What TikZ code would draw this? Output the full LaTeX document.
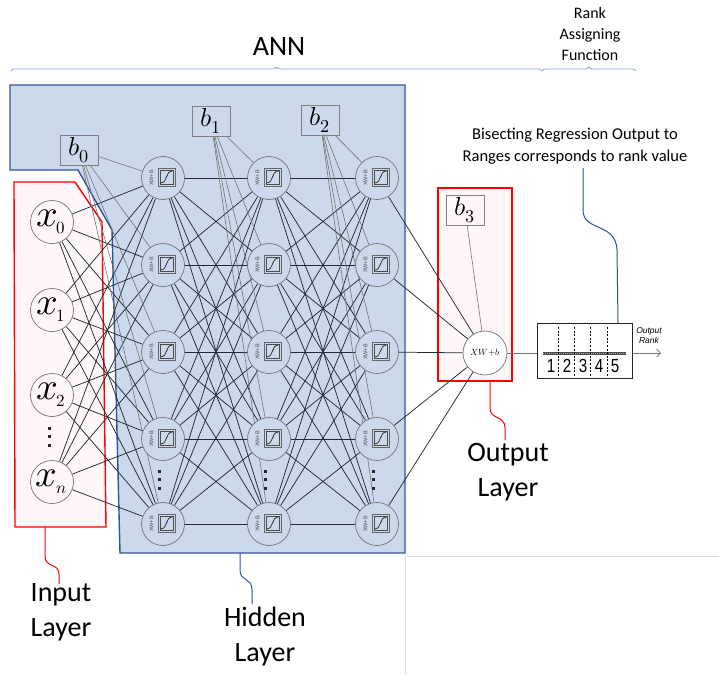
\documentclass[tikz,border=0pt]{standalone}
\usepackage{fontspec}
\usepackage{unicode-math}
\usepackage{graphicx}
\setmainfont{Carlito}
\setmathfont{Latin Modern Math}
\newfontfamily\helv{Liberation Sans}
\usetikzlibrary{arrows.meta,decorations.pathreplacing}
\definecolor{annfill}{RGB}{204,217,236}
\definecolor{annline}{RGB}{47,85,151}
\definecolor{redline}{RGB}{255,0,0}
\definecolor{pinkfill}{RGB}{255,247,247}
\definecolor{conncol}{RGB}{35,42,55}
\definecolor{bracecol}{RGB}{143,170,220}
\pgfdeclarelayer{bg}
\pgfdeclarelayer{edges}
\pgfsetlayers{bg,edges,main}
\tikzset{
  hid/.style={circle, draw=black!55, fill=annfill, minimum size=43pt, inner sep=0pt, line width=0.7pt},
  inp/.style={circle, draw=black!55, fill=pinkfill, minimum size=43pt, inner sep=0pt, line width=0.7pt, font=\fontsize{38}{38}\selectfont},
  biasbox/.style={rectangle, draw=black!50, minimum width=38pt, minimum height=30pt, inner sep=0pt, line width=0.7pt, font=\fontsize{26}{26}\selectfont},
  conn/.style={draw=conncol, line width=0.75pt},
  biasln/.style={draw=black!55, line width=0.6pt},
  sqst/.style={draw=black!60, line width=0.9pt},
  sigst/.style={draw=black!85, line width=0.7pt},
  lbl/.style={font=\fontsize{28}{35}\selectfont, align=center},
  callout/.style={line width=1pt},
  dotst/.style={fill=black!85},
}
\newcommand\xlab[1]{\hspace*{-2pt}$x$\kern-1.5pt\raisebox{-7pt}{\fontsize{17}{17}\selectfont$#1$}}
\newcommand\hnode[3]{%
  \node[hid] (#1) at (#2,#3) {};
  \draw[sqst] (#2-5,#3-10) rectangle (#2+12,#3+8);
  \draw[draw=black!70, line width=0.35pt] (#2-3.3,#3-8.3) rectangle (#2+10.3,#3+6.3);
  \draw[sigst] (#2-2.5,#3+5) .. controls (#2+5,#3+5) and (#2+2,#3-7) .. (#2+9.5,#3-7);
  \node[rotate=90, font=\helv\fontsize{5.5}{5.5}\selectfont, text=black!70, inner sep=0pt] at (#2-11.5,#3) {XW+B};
}
\newcommand\vdotsat[2]{%
  \foreach \k in {0,1,2}{ \fill[dotst] (#1-1.5,#2-1.5+\k*8.5) rectangle (#1+1.5,#2+1.5+\k*8.5); }
}
\begin{document}
\begin{tikzpicture}[x=1pt,y=-1pt]
\useasboundingbox (0,0) rectangle (719,674);

% background shapes
\begin{pgfonlayer}{bg}
  \fill[white] (0,0) rectangle (719,674);
  \draw[black!13, line width=0.6pt] (405,556) -- (719,556) (405,556) -- (405,674);
  \filldraw[fill=annfill, draw=annline, line width=1.4pt]
    (10,85) -- (405,85) -- (405,553) -- (120,553) -- (112,230) -- (78,170) -- (10,170) -- cycle;
  \filldraw[fill=pinkfill, draw=redline, line width=1.4pt]
    (14,182) -- (75,182) -- (102,222) -- (106,527) -- (15,527) -- cycle;
  \filldraw[fill=pinkfill, draw=redline, line width=1.4pt]
    (438,188) rectangle (512,381);
\end{pgfonlayer}

% titles and braces
\node[font=\fontsize{28}{30}\selectfont] (ann) at (279,47) {ANN};
\node[font=\fontsize{16}{21}\selectfont, align=center] (raf) at (590,34) {Rank\\Assigning\\Function};
\draw[bracecol, line width=0.8pt, decorate, decoration={brace, amplitude=4pt}] (11,71) -- (542,71);
\draw[bracecol, line width=0.8pt, decorate, decoration={brace, amplitude=4pt}] (542,71) -- (636,71);

% input nodes
\node[inp] (x0) at (52,222) {\xlab{0}};
\node[inp] (x1) at (52,310) {\xlab{1}};
\node[inp] (x2) at (52,395) {\xlab{2}};
\node[inp] (xn) at (52,482) {\xlab{n}};
\vdotsat{49}{428}

% bias boxes
\node[biasbox] (b0) at (79,150) {$b_{0}$};
\node[biasbox] (b1) at (211,121) {$b_{1}$};
\node[biasbox] (b2) at (320,120) {$b_{2}$};
\node[biasbox, fill=pinkfill] (b3) at (465,210) {$b_{3}$};

% hidden nodes
\foreach \c/\xx in {1/163,2/269,3/377}{
  \foreach \r/\yy in {1/178,2/265,3/352,4/439,5/524}{
    \hnode{h\c-\r}{\xx}{\yy}
  }
  \vdotsat{\xx-4}{471}
}

% output node
\node[circle, draw=black!55, fill=white, minimum size=44pt, inner sep=0pt, line width=0.7pt, font=\fontsize{9}{9}\selectfont] (out) at (485,353) {$XW{+}b$};

% rank assigning box
\node[rectangle, draw=black!85, fill=white, line width=1pt, minimum width=95pt, minimum height=55pt, inner sep=0pt] (rank) at (584.5,350.5) {};
\draw[black!70, line width=3pt] (543,353) -- (626,353);
\draw[black!35, line width=0.6pt, dash pattern=on 1pt off 1pt] (543,353) -- (626,353);
\foreach \xx in {558.5,574,590,607}{
  \draw[black, line width=1pt, dash pattern=on 2pt off 1.6pt] (\xx,327) -- (\xx,377);
}
\foreach \d/\xx in {1/551,2/567,3/583,4/599,5/615}{
  \node[font=\helv\fontsize{19}{19}\selectfont, inner sep=0pt] at (\xx,366) {\scalebox{0.8}[1]{\d}};
}
\coordinate (orank) at (661,353);
\draw[black!55, line width=0.7pt, -{Straight Barb[length=4pt,width=8pt]}] (rank.east |- out) -- (orank);
\node[font=\helv\itshape\fontsize{8.5}{10}\selectfont, align=center] (ortext) at (649,336) {Output\\Rank};

% annotation
\node[font=\fontsize{16.5}{22}\selectfont, align=center] (bis) at (575,146) {Bisecting Regression Output to\\Ranges corresponds to rank value};

% connectors
\begin{pgfonlayer}{edges}
  \foreach \i in {x0,x1,x2,xn}{
    \foreach \r in {1,...,5}{ \draw[conn] (\i) -- (h1-\r); }
  }
  \foreach \a/\b in {1/2,2/3}{
    \foreach \r in {1,...,5}{
      \foreach \s in {1,...,5}{ \draw[conn] (h\a-\r) -- (h\b-\s); }
    }
  }
  \foreach \r in {1,...,5}{
    \draw[biasln] (b0) -- (h1-\r);
    \draw[biasln] (b1) -- (h2-\r);
    \draw[biasln] (b2) -- (h3-\r);
    \draw[conn] (h3-\r) -- (out);
  }
  \draw[biasln] (b3) -- (out);
  \draw[black!55, line width=0.7pt] (out) -- (out -| rank.west);
\end{pgfonlayer}

% labels with callout lines
\node[lbl] (inlbl) at (61,612) {Input\\Layer};
\node[lbl] (hidlbl) at (265,637) {Hidden\\Layer};
\node[lbl] (outlbl) at (508,472) {Output\\Layer};
\coordinate (inc) at (45,527);
\coordinate (hidc) at (240,553);
\coordinate (outc) at (490,381);
\draw[redline, callout] (inc) -- (45,556) .. controls (45,568) and (59,563) .. (59,574) -- (59,584);
\draw[annline, callout] (hidc) -- (240,570) .. controls (240,582) and (252,577) .. (252,590) -- (252,604);
\draw[redline, callout] (outc) -- (490,408) .. controls (490,420) and (505,415) .. (505,428) -- (505,440);
\draw[annline, callout] (583,168) -- (583,210) .. controls (583,232) and (616,222) .. (617,250) -- (618,323);
\end{tikzpicture}
\end{document}
